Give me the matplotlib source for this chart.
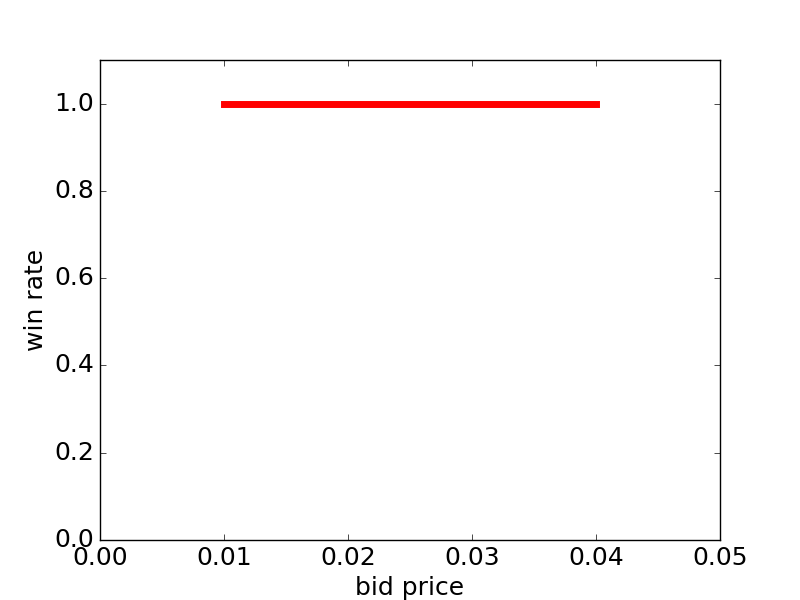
import matplotlib
matplotlib.use("Agg")
import matplotlib.pyplot as plt

plt.style.use("classic")

# 입찰가별 승률
bid_price = [0.01, 0.02, 0.03, 0.04]
win_rate = [1.0, 1.0, 1.0, 1.0]

plt.rcParams['font.size'] = 18
fig = plt.figure(figsize=(8, 6), dpi=100)
plt.plot(bid_price, win_rate, color='red', linewidth=5)
plt.xlim(0.0, 0.05)
plt.ylim(0.0, 1.1)
plt.xticks([0.0, 0.01, 0.02, 0.03, 0.04, 0.05])
plt.yticks([0.0, 0.2, 0.4, 0.6, 0.8, 1.0])
plt.xlabel("bid price")
plt.ylabel("win rate")
plt.savefig("out.png", dpi=100)
